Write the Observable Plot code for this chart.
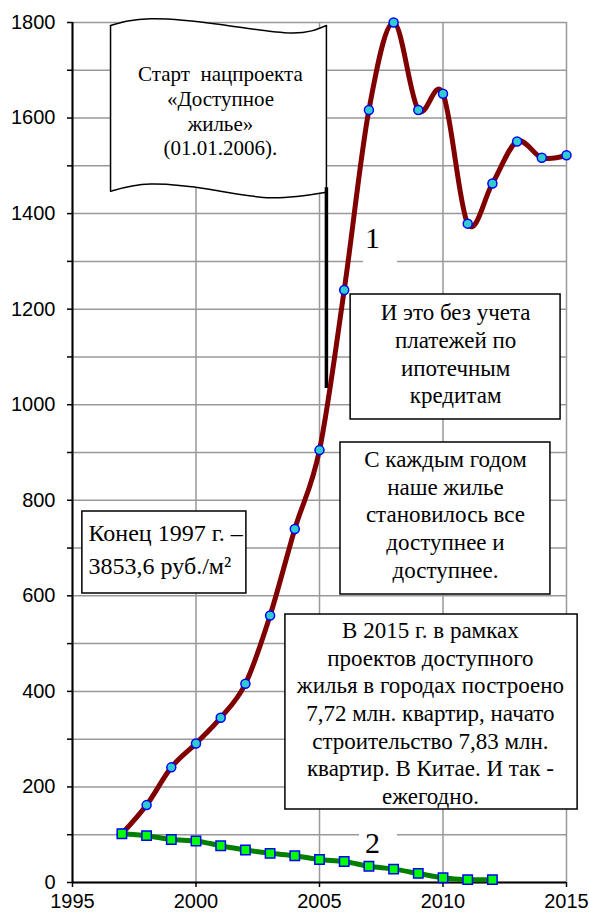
<!DOCTYPE html>
<html>
<head>
<meta charset="utf-8">
<script src="https://cdn.jsdelivr.net/npm/d3@7"></script>
<script src="https://cdn.jsdelivr.net/npm/@observablehq/plot@0.6"></script>
<style>
  html, body { margin: 0; padding: 0; background: #fff; }
</style>
</head>
<body>
<div id="chart"></div>
<script>
// Series 1: price (red line, circles)
const years1 = [1997,1998,1999,2000,2001,2002,2003,2004,2005,2006,2007,2008,2009,2010,2011,2012,2013,2014,2015];
const values1 = [102,162,241,291,345,416,559,740,905,1240,1617,1800,1617,1651,1379,1463,1551,1517,1522];
// Series 2: affordability (green line, squares)
const years2 = [1997,1998,1999,2000,2001,2002,2003,2004,2005,2006,2007,2008,2009,2010,2011,2012];
const values2 = [102,98,90,87,77,68,61,56,48,44,34,28,19,10,6,6];

const xTicks = [1995, 2000, 2005, 2010, 2015];
const yTicks = d3.range(0, 1801, 100);
const yLabelStep = 200;

const s1 = years1.map((y, i) => ({year: y, value: values1[i]}));
const s2 = years2.map((y, i) => ({year: y, value: values2[i]}));

// Annotation texts
const flagText = "Старт\u00a0 нацпроекта\n«Доступное\nжилье»\n(01.01.2006).";
const note1 = "И это без учета\nплатежей по\nипотечным\nкредитам";
const note2 = "С каждым годом\nнаше жилье\nстановилось все\nдоступнее и\nдоступнее.";
const note3 = "В 2015 г. в рамках\nпроектов доступного\nжилья в городах построено\n7,72 млн. квартир, начато\nстроительство 7,83 млн.\nквартир. В Китае. И так -\nежегодно.";
const note4 = "Конец 1997 г. –\n3853,6 руб./м²";

// Annotation geometry (data units)
const flagEdge = [
  {xa: 1996.54, ya: 1793.7, xb: 1996.54, yb: 1446.9},
  {xa: 1998.16, ya: 1807.7, xb: 1998.16, yb: 1461.9},
  {xa: 2000.99, ya: 1795.8, xb: 2000.59, yb: 1450.4},
  {xa: 2003.83, ya: 1778.0, xb: 2003.02, yb: 1433.1},
  {xa: 2005.28, ya: 1793.7, xb: 2005.28, yb: 1444.8}
];
const boxes = [
  {x1: 2006.26, x2: 2014.76, y1: 969.1, y2: 1230.7},
  {x1: 2005.85, x2: 2014.35, y1: 602.8, y2: 920.9},
  {x1: 2003.62, x2: 2015.45, y1: 152.8, y2: 560.9},
  {x1: 1995.40, x2: 2002.04, y1: 604.9, y2: 776.5}
];
const labelBoxes = [
  {x1: 2006.78, x2: 2008.16, y1: 1293.5, y2: 1381.4},
  {x1: 2006.62, x2: 2008.16, y1: 52.3, y2: 121.4}
];

const serif = "'Liberation Serif', 'Times New Roman', serif";
const smooth = d3.curveCardinal.tension(0);

const plot = Plot.plot({
  width: 589,
  height: 915,
  marginLeft: 72,
  marginRight: 23,
  marginTop: 22,
  marginBottom: 33,
  style: {fontFamily: "'Liberation Sans', Arial, sans-serif", fontSize: "20px", background: "#fff", color: "#000", overflow: "visible"},
  x: {domain: [1995, 2015]},
  y: {domain: [0, 1800]},
  marks: [
    Plot.gridY(yTicks, {stroke: "#999", strokeOpacity: 1, strokeWidth: 1.5}),
    Plot.gridX(xTicks, {stroke: "#999", strokeOpacity: 1, strokeWidth: 1.5}),
    Plot.axisY({ticks: yTicks, tickFormat: d => d % yLabelStep === 0 ? String(d) : "", tickSize: 5, tickPadding: 12, label: null, stroke: "#000", strokeWidth: 1.5, fontSize: 20}),
    Plot.axisX({ticks: xTicks, tickFormat: d => String(d), tickSize: 5, tickPadding: 6, label: null, stroke: "#000", strokeWidth: 1.5, fontSize: 20}),
    // Flag
    Plot.area(flagEdge, {x1: "xa", y1: "ya", x2: "xb", y2: "yb", fill: "#fff", curve: "natural"}),
    Plot.line(flagEdge, {x: "xa", y: "ya", stroke: "#000", strokeWidth: 1.5, curve: "natural"}),
    Plot.line(flagEdge, {x: "xb", y: "yb", stroke: "#000", strokeWidth: 1.5, curve: "natural"}),
    Plot.ruleX([flagEdge[0]], {x: "xa", y1: "yb", y2: "ya", stroke: "#000", strokeWidth: 1.5}),
    Plot.ruleX([flagEdge[4]], {x: "xa", y1: "yb", y2: "ya", stroke: "#000", strokeWidth: 1.5}),
    Plot.ruleX([{x: 2005.28, y1: 1033.9, y2: 1454.3}], {x: "x", y1: "y1", y2: "y2", stroke: "#000", strokeWidth: 3.5}),
    Plot.text([flagText], {x: 2000.99, y: 1616.8, text: d => d, fontFamily: serif, fontSize: 21, lineHeight: 1.19, fill: "#000"}),
    // Boxes
    Plot.rect(boxes, {x1: "x1", x2: "x2", y1: "y1", y2: "y2", fill: "#fff", stroke: "#000", strokeWidth: 1.5}),
    Plot.rect(labelBoxes, {x1: "x1", x2: "x2", y1: "y1", y2: "y2", fill: "#fff"}),
    Plot.text([note1], {x: 2010.51, y: 1108.2, text: d => d, fontFamily: serif, fontSize: 23, lineHeight: 1.2, fill: "#000"}),
    Plot.text([note2], {x: 2010.10, y: 772.3, text: d => d, fontFamily: serif, fontSize: 23, lineHeight: 1.2, fill: "#000"}),
    Plot.text([note3], {x: 2009.49, y: 356.5, text: d => d, fontFamily: serif, fontSize: 23, lineHeight: 1.2, fill: "#000"}),
    Plot.text([note4], {x: 1995.65, y: 702.2, text: d => d, textAnchor: "start", fontFamily: serif, fontSize: 24, lineHeight: 1.38, fill: "#000"}),
    Plot.text(["1"], {x: 2007.15, y: 1347.9, text: d => d, fontFamily: serif, fontSize: 30, fill: "#000"}),
    Plot.text(["2"], {x: 2007.15, y: 82.3, text: d => d, fontFamily: serif, fontSize: 30, fill: "#000"}),
    // Axis lines
    Plot.ruleX([1995], {stroke: "#000", strokeWidth: 2}),
    Plot.ruleY([0], {stroke: "#000", strokeWidth: 2}),
    // Series
    Plot.line(s1, {x: "year", y: "value", stroke: "#800000", strokeWidth: 5, curve: smooth, strokeLinejoin: "round"}),
    Plot.dot(s1, {x: "year", y: "value", r: 4.5, fill: "#33CCCC", stroke: "#0000FF", strokeWidth: 1.5}),
    Plot.line(s2, {x: "year", y: "value", stroke: "#008000", strokeWidth: 5, curve: smooth, strokeLinejoin: "round"}),
    Plot.dot(s2, {x: "year", y: "value", symbol: "square", r: 5.3, fill: "#00FF00", stroke: "#0000FF", strokeWidth: 1.5})
  ]
});
document.getElementById("chart").appendChild(plot);
</script>
</body>
</html>
